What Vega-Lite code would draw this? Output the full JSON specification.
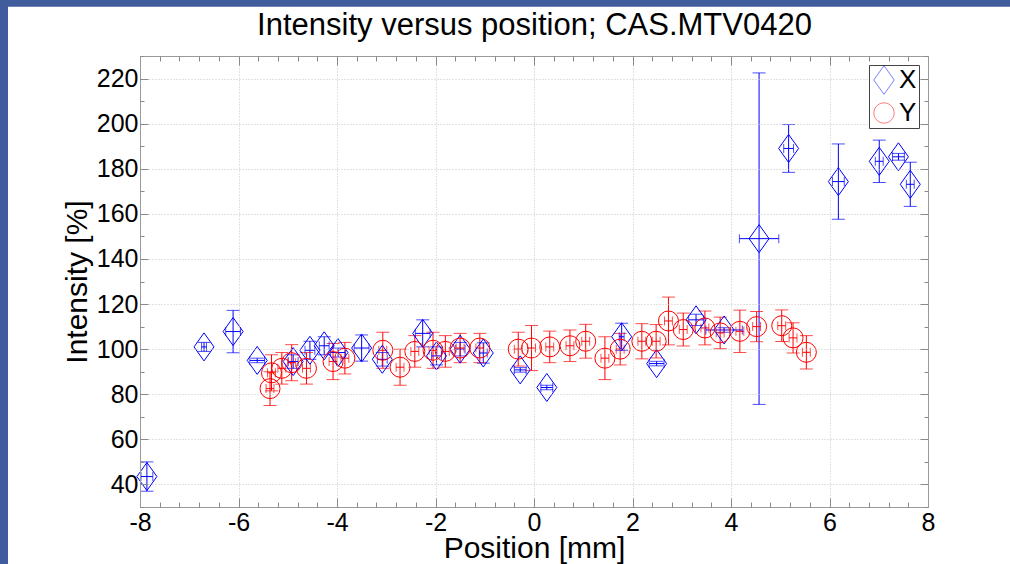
{
  "$schema": "https://vega.github.io/schema/vega-lite/v6.json",
  "width": 788,
  "height": 451,
  "autosize": {"type": "none"},
  "padding": {"left": 140, "top": 56, "right": 82, "bottom": 57},
  "background": "#405c9c",
  "datasets": {
    "pts": [
      {"s": "X", "x": -7.86, "y": 43.5, "ylo": 37, "yhi": 50, "xlo": -7.98, "xhi": -7.74},
      {"s": "X", "x": -6.70, "y": 101, "ylo": 99, "yhi": 103, "xlo": -6.75, "xhi": -6.65},
      {"s": "X", "x": -6.11, "y": 107.8, "ylo": 98.4, "yhi": 117.2, "xlo": -6.26, "xhi": -5.96},
      {"s": "X", "x": -5.62, "y": 95, "ylo": 94, "yhi": 96, "xlo": -5.77, "xhi": -5.47},
      {"s": "X", "x": -4.89, "y": 94.5, "ylo": 91.5, "yhi": 97.5, "xlo": -4.99, "xhi": -4.79},
      {"s": "X", "x": -4.55, "y": 99.5, "ylo": 95.5, "yhi": 103.5, "xlo": -4.65, "xhi": -4.45},
      {"s": "X", "x": -4.26, "y": 101.5, "ylo": 97.5, "yhi": 105.5, "xlo": -4.36, "xhi": -4.16},
      {"s": "X", "x": -3.98, "y": 98.5, "ylo": 96.5, "yhi": 100.5, "xlo": -4.13, "xhi": -3.83},
      {"s": "X", "x": -3.50, "y": 100.5, "ylo": 94.7, "yhi": 106.3, "xlo": -3.65, "xhi": -3.35},
      {"s": "X", "x": -3.08, "y": 95.5, "ylo": 92.5, "yhi": 98.5, "xlo": -3.18, "xhi": -2.98},
      {"s": "X", "x": -2.26, "y": 107, "ylo": 101, "yhi": 113, "xlo": -2.41, "xhi": -2.11},
      {"s": "X", "x": -1.98, "y": 97, "ylo": 93, "yhi": 101, "xlo": -2.08, "xhi": -1.88},
      {"s": "X", "x": -1.50, "y": 100, "ylo": 97, "yhi": 103, "xlo": -1.6, "xhi": -1.4},
      {"s": "X", "x": -1.03, "y": 98.3, "ylo": 93.8, "yhi": 102.8, "xlo": -1.11, "xhi": -0.95},
      {"s": "X", "x": -0.28, "y": 90.8, "ylo": 89.8, "yhi": 91.8, "xlo": -0.4, "xhi": -0.16},
      {"s": "X", "x": 0.26, "y": 83, "ylo": 82, "yhi": 84, "xlo": 0.14, "xhi": 0.38},
      {"s": "X", "x": 1.78, "y": 105.5, "ylo": 99.5, "yhi": 111.5, "xlo": 1.73, "xhi": 1.83},
      {"s": "X", "x": 2.49, "y": 93.6, "ylo": 92.6, "yhi": 94.6, "xlo": 2.34, "xhi": 2.64},
      {"s": "X", "x": 3.29, "y": 113, "ylo": 110.5, "yhi": 115.5, "xlo": 3.14, "xhi": 3.44},
      {"s": "X", "x": 3.86, "y": 108.5, "ylo": 107.5, "yhi": 109.5, "xlo": 3.49, "xhi": 4.23},
      {"s": "X", "x": 4.57, "y": 149, "ylo": 75.5, "yhi": 222.5, "xlo": 4.17, "xhi": 4.97},
      {"s": "X", "x": 5.17, "y": 189, "ylo": 178.4, "yhi": 199.6, "xlo": 5.07, "xhi": 5.27},
      {"s": "X", "x": 6.18, "y": 174.3, "ylo": 157.6, "yhi": 191, "xlo": 6.06, "xhi": 6.3},
      {"s": "X", "x": 7.01, "y": 183.3, "ylo": 173.9, "yhi": 192.7, "xlo": 6.93, "xhi": 7.09},
      {"s": "X", "x": 7.40, "y": 185.3, "ylo": 183.8, "yhi": 186.8, "xlo": 7.28, "xhi": 7.52},
      {"s": "X", "x": 7.64, "y": 173.1, "ylo": 163.3, "yhi": 182.9, "xlo": 7.56, "xhi": 7.72},
      {"s": "Y", "x": -5.36, "y": 82.5, "ylo": 75, "yhi": 90, "xlo": -5.44, "xhi": -5.28},
      {"s": "Y", "x": -5.33, "y": 89.5, "ylo": 81.5, "yhi": 97.5, "xlo": -5.41, "xhi": -5.25},
      {"s": "Y", "x": -5.12, "y": 91.5, "ylo": 84.5, "yhi": 98.5, "xlo": -5.2, "xhi": -5.04},
      {"s": "Y", "x": -4.92, "y": 94, "ylo": 86, "yhi": 102, "xlo": -5.0, "xhi": -4.84},
      {"s": "Y", "x": -4.62, "y": 91.5, "ylo": 84.5, "yhi": 98.5, "xlo": -4.7, "xhi": -4.54},
      {"s": "Y", "x": -4.08, "y": 94.5, "ylo": 86.5, "yhi": 102.5, "xlo": -4.16, "xhi": -4.0},
      {"s": "Y", "x": -3.84, "y": 96, "ylo": 89, "yhi": 103, "xlo": -3.92, "xhi": -3.76},
      {"s": "Y", "x": -3.07, "y": 99.5, "ylo": 91.5, "yhi": 107.5, "xlo": -3.15, "xhi": -2.99},
      {"s": "Y", "x": -2.72, "y": 92, "ylo": 84, "yhi": 100, "xlo": -2.8, "xhi": -2.64},
      {"s": "Y", "x": -2.42, "y": 99, "ylo": 92, "yhi": 106, "xlo": -2.5, "xhi": -2.34},
      {"s": "Y", "x": -2.05, "y": 99.5, "ylo": 91.5, "yhi": 107.5, "xlo": -2.13, "xhi": -1.97},
      {"s": "Y", "x": -1.80, "y": 99, "ylo": 92, "yhi": 106, "xlo": -1.88, "xhi": -1.72},
      {"s": "Y", "x": -1.50, "y": 100.5, "ylo": 94, "yhi": 107, "xlo": -1.58, "xhi": -1.42},
      {"s": "Y", "x": -1.10, "y": 100.5, "ylo": 94, "yhi": 107, "xlo": -1.18, "xhi": -1.02},
      {"s": "Y", "x": -0.32, "y": 100, "ylo": 92.5, "yhi": 107.5, "xlo": -0.4, "xhi": -0.24},
      {"s": "Y", "x": -0.05, "y": 100.5, "ylo": 90.5, "yhi": 110.5, "xlo": -0.13, "xhi": 0.03},
      {"s": "Y", "x": 0.32, "y": 101, "ylo": 94, "yhi": 108, "xlo": 0.24, "xhi": 0.4},
      {"s": "Y", "x": 0.73, "y": 101.5, "ylo": 94.5, "yhi": 108.5, "xlo": 0.65, "xhi": 0.81},
      {"s": "Y", "x": 1.05, "y": 103.5, "ylo": 96, "yhi": 111, "xlo": 0.97, "xhi": 1.13},
      {"s": "Y", "x": 1.44, "y": 96, "ylo": 86.5, "yhi": 105.5, "xlo": 1.36, "xhi": 1.52},
      {"s": "Y", "x": 1.75, "y": 100, "ylo": 93, "yhi": 107, "xlo": 1.67, "xhi": 1.83},
      {"s": "Y", "x": 2.19, "y": 103.5, "ylo": 95.7, "yhi": 111.3, "xlo": 2.11, "xhi": 2.27},
      {"s": "Y", "x": 2.48, "y": 103.5, "ylo": 96.1, "yhi": 110.9, "xlo": 2.4, "xhi": 2.56},
      {"s": "Y", "x": 2.73, "y": 112.5, "ylo": 101.9, "yhi": 123.1, "xlo": 2.65, "xhi": 2.81},
      {"s": "Y", "x": 3.03, "y": 108.7, "ylo": 101.4, "yhi": 116, "xlo": 2.95, "xhi": 3.11},
      {"s": "Y", "x": 3.47, "y": 109.4, "ylo": 101.9, "yhi": 116.9, "xlo": 3.39, "xhi": 3.55},
      {"s": "Y", "x": 3.78, "y": 107.2, "ylo": 100.2, "yhi": 114.2, "xlo": 3.7, "xhi": 3.86},
      {"s": "Y", "x": 4.18, "y": 107.9, "ylo": 98.5, "yhi": 117.3, "xlo": 4.1, "xhi": 4.26},
      {"s": "Y", "x": 4.52, "y": 110, "ylo": 103.3, "yhi": 116.7, "xlo": 4.44, "xhi": 4.6},
      {"s": "Y", "x": 5.03, "y": 110.4, "ylo": 103.4, "yhi": 117.4, "xlo": 4.95, "xhi": 5.11},
      {"s": "Y", "x": 5.26, "y": 105, "ylo": 98.3, "yhi": 111.7, "xlo": 5.18, "xhi": 5.34},
      {"s": "Y", "x": 5.53, "y": 98.6, "ylo": 91.2, "yhi": 106, "xlo": 5.45, "xhi": 5.61}
    ]
  },
  "layer": [
    {
      "data": {"values": [{"k": 1}]},
      "mark": {"type": "rect", "fill": "white", "clip": false},
      "encoding": {
        "x": {"datum": -10.68, "type": "quantitative", "scale": {"domain": [-8, 8], "nice": false, "zero": false}, "axis": null},
        "x2": {"datum": 10.5},
        "y": {"datum": 0, "type": "quantitative", "scale": {"domain": [30, 230], "nice": false, "zero": false}, "axis": null},
        "y2": {"datum": 251.8}
      }
    },
    {
      "data": {"name": "pts"},
      "mark": {"type": "rule", "strokeWidth": 1},
      "encoding": {
        "x": {"field": "x", "type": "quantitative", "scale": {"domain": [-8, 8], "nice": false, "zero": false},
          "axis": {"zindex": 1, "orient": "bottom", "values": [-8, -6, -4, -2, 0, 2, 4, 6, 8], "labelExpr": "'' + datum.value", "labelFlush": false, "labelOverlap": false, "ticks": false, "grid": true, "domain": true, "title": "Position [mm]", "titlePadding": -2, "labelPadding": 3}},
        "y": {"field": "ylo", "type": "quantitative", "scale": {"domain": [30, 230], "nice": false, "zero": false},
          "axis": {"zindex": 1, "orient": "left", "values": [40, 60, 80, 100, 120, 140, 160, 180, 200, 220], "labelExpr": "'' + datum.value", "labelFlush": false, "labelOverlap": false, "ticks": false, "grid": true, "domain": true, "title": "Intensity [%]", "titlePadding": 4, "labelPadding": 2}},
        "y2": {"field": "yhi"},
        "stroke": {"field": "s", "type": "nominal", "scale": {"domain": ["Y", "X"], "range": ["#ff0000", "#0000ff"]}, "legend": null}
      }
    },
    {
      "data": {"name": "pts"},
      "mark": {"type": "tick", "orient": "horizontal", "size": 13, "thickness": 1},
      "encoding": {
        "x": {"field": "x", "type": "quantitative", "scale": {"domain": [-8, 8], "nice": false, "zero": false},
          "axis": {"zindex": 1, "orient": "bottom", "values": [-8, -6, -4, -2, 0, 2, 4, 6, 8], "labels": false, "ticks": true, "tickSize": -9, "grid": false, "domain": false, "title": null}},
        "y": {"field": "yhi", "type": "quantitative", "scale": {"domain": [30, 230], "nice": false, "zero": false},
          "axis": {"zindex": 1, "orient": "left", "values": [40, 60, 80, 100, 120, 140, 160, 180, 200, 220], "labels": false, "ticks": true, "tickSize": -8, "grid": false, "domain": false, "title": null}},
        "fill": {"field": "s", "type": "nominal", "scale": {"domain": ["Y", "X"], "range": ["#ff0000", "#0000ff"]}, "legend": null}
      }
    },
    {
      "data": {"name": "pts"},
      "mark": {"type": "tick", "orient": "horizontal", "size": 13, "thickness": 1},
      "encoding": {
        "x": {"field": "x", "type": "quantitative", "scale": {"domain": [-8, 8], "nice": false, "zero": false},
          "axis": {"zindex": 1, "orient": "bottom", "values": [-8, -7.6, -7.2, -6.8, -6.4, -6, -5.6, -5.2, -4.8, -4.4, -4, -3.6, -3.2, -2.8, -2.4, -2, -1.6, -1.2, -0.8, -0.4, 0, 0.4, 0.8, 1.2, 1.6, 2, 2.4, 2.8, 3.2, 3.6, 4, 4.4, 4.8, 5.2, 5.6, 6, 6.4, 6.8, 7.2, 7.6, 8], "labels": false, "ticks": true, "tickSize": -5, "grid": false, "domain": false, "title": null}},
        "y": {"field": "ylo", "type": "quantitative", "scale": {"domain": [30, 230], "nice": false, "zero": false},
          "axis": {"zindex": 1, "orient": "left", "values": [30, 40, 50, 60, 70, 80, 90, 100, 110, 120, 130, 140, 150, 160, 170, 180, 190, 200, 210, 220, 230], "labels": false, "ticks": true, "tickSize": -4, "grid": false, "domain": false, "title": null}},
        "fill": {"field": "s", "type": "nominal", "scale": {"domain": ["Y", "X"], "range": ["#ff0000", "#0000ff"]}, "legend": null}
      }
    },
    {
      "data": {"name": "pts"},
      "mark": {"type": "rule", "strokeWidth": 1},
      "encoding": {
        "y": {"field": "y", "type": "quantitative", "scale": {"domain": [30, 230], "nice": false, "zero": false},
          "axis": {"zindex": 1, "orient": "right", "values": [40, 60, 80, 100, 120, 140, 160, 180, 200, 220], "labels": false, "ticks": true, "tickSize": -8, "grid": false, "domain": true, "title": null}},
        "x": {"field": "xlo", "type": "quantitative", "scale": {"domain": [-8, 8], "nice": false, "zero": false},
          "axis": {"zindex": 1, "orient": "top", "values": [-8, -6, -4, -2, 0, 2, 4, 6, 8], "labels": false, "ticks": true, "tickSize": -9, "grid": false, "domain": true, "title": "Intensity versus position; CAS.MTV0420", "titleFontSize": 31, "titleBaseline": "alphabetic", "titlePadding": 21}},
        "x2": {"field": "xhi"},
        "stroke": {"field": "s", "type": "nominal", "scale": {"domain": ["Y", "X"], "range": ["#ff0000", "#0000ff"]}, "legend": null}
      }
    },
    {
      "data": {"name": "pts"},
      "mark": {"type": "tick", "orient": "vertical", "size": 9, "thickness": 1},
      "encoding": {
        "x": {"field": "xlo", "type": "quantitative", "scale": {"domain": [-8, 8], "nice": false, "zero": false},
          "axis": {"zindex": 1, "orient": "top", "values": [-8, -7.6, -7.2, -6.8, -6.4, -6, -5.6, -5.2, -4.8, -4.4, -4, -3.6, -3.2, -2.8, -2.4, -2, -1.6, -1.2, -0.8, -0.4, 0, 0.4, 0.8, 1.2, 1.6, 2, 2.4, 2.8, 3.2, 3.6, 4, 4.4, 4.8, 5.2, 5.6, 6, 6.4, 6.8, 7.2, 7.6, 8], "labels": false, "ticks": true, "tickSize": -5, "grid": false, "domain": false, "title": null}},
        "y": {"field": "y", "type": "quantitative", "scale": {"domain": [30, 230], "nice": false, "zero": false},
          "axis": {"zindex": 1, "orient": "right", "values": [30, 40, 50, 60, 70, 80, 90, 100, 110, 120, 130, 140, 150, 160, 170, 180, 190, 200, 210, 220, 230], "labels": false, "ticks": true, "tickSize": -4, "grid": false, "domain": false, "title": null}},
        "fill": {"field": "s", "type": "nominal", "scale": {"domain": ["Y", "X"], "range": ["#ff0000", "#0000ff"]}, "legend": null}
      }
    },
    {
      "data": {"name": "pts"},
      "mark": {"type": "tick", "orient": "vertical", "size": 9, "thickness": 1},
      "encoding": {
        "x": {"field": "xhi", "type": "quantitative", "scale": {"domain": [-8, 8], "nice": false, "zero": false}, "axis": null},
        "y": {"field": "y", "type": "quantitative", "scale": {"domain": [30, 230], "nice": false, "zero": false}, "axis": null},
        "fill": {"field": "s", "type": "nominal", "scale": {"domain": ["Y", "X"], "range": ["#ff0000", "#0000ff"]}, "legend": null}
      }
    },
    {
      "data": {"name": "pts"},
      "mark": {"type": "point", "filled": false, "strokeWidth": 1, "size": 400, "opacity": 1},
      "encoding": {
        "x": {"field": "x", "type": "quantitative", "scale": {"domain": [-8, 8], "nice": false, "zero": false}, "axis": null},
        "y": {"field": "y", "type": "quantitative", "scale": {"domain": [30, 230], "nice": false, "zero": false}, "axis": null},
        "color": {"field": "s", "type": "nominal", "scale": {"domain": ["X", "Y"], "range": ["#0000ff", "#ff0000"]},
          "legend": {"title": null, "orient": "top-right", "offset": 9, "padding": 2, "strokeColor": "#444444", "fillColor": "white", "labelFontSize": 26, "labelColor": "black", "labelOffset": 2, "rowPadding": 3, "symbolSize": 420, "symbolStrokeWidth": 1, "symbolOpacity": 0.5, "zindex": 2}},
        "shape": {"field": "s", "type": "nominal", "scale": {"domain": ["X", "Y"], "range": ["M0,-1.4L1,0L0,1.4L-1,0Z", "circle"]},
          "legend": {"title": null, "orient": "top-right", "offset": 9, "padding": 2, "strokeColor": "#444444", "fillColor": "white", "labelFontSize": 26, "labelColor": "black", "labelOffset": 2, "rowPadding": 3, "symbolSize": 420, "symbolStrokeWidth": 1, "symbolOpacity": 0.5, "zindex": 2}}
      }
    }
  ],
  "resolve": {"axis": {"x": "independent", "y": "independent"}},
  "config": {
    "font": "Liberation Sans",
    "view": {"stroke": null},
    "axis": {
      "labelFont": "Liberation Sans",
      "labelFontSize": 25,
      "labelColor": "black",
      "titleFont": "Liberation Sans",
      "titleFontSize": 30,
      "titleFontWeight": "normal",
      "titleColor": "black",
      "domainColor": "#9a9a9a",
      "domainWidth": 1,
      "tickColor": "#8a8a8a",
      "tickWidth": 1,
      "gridColor": "#c4c4c4",
      "gridDash": [1, 2],
      "gridWidth": 1
    },
    "legend": {"labelFont": "Liberation Sans"}
  }
}
